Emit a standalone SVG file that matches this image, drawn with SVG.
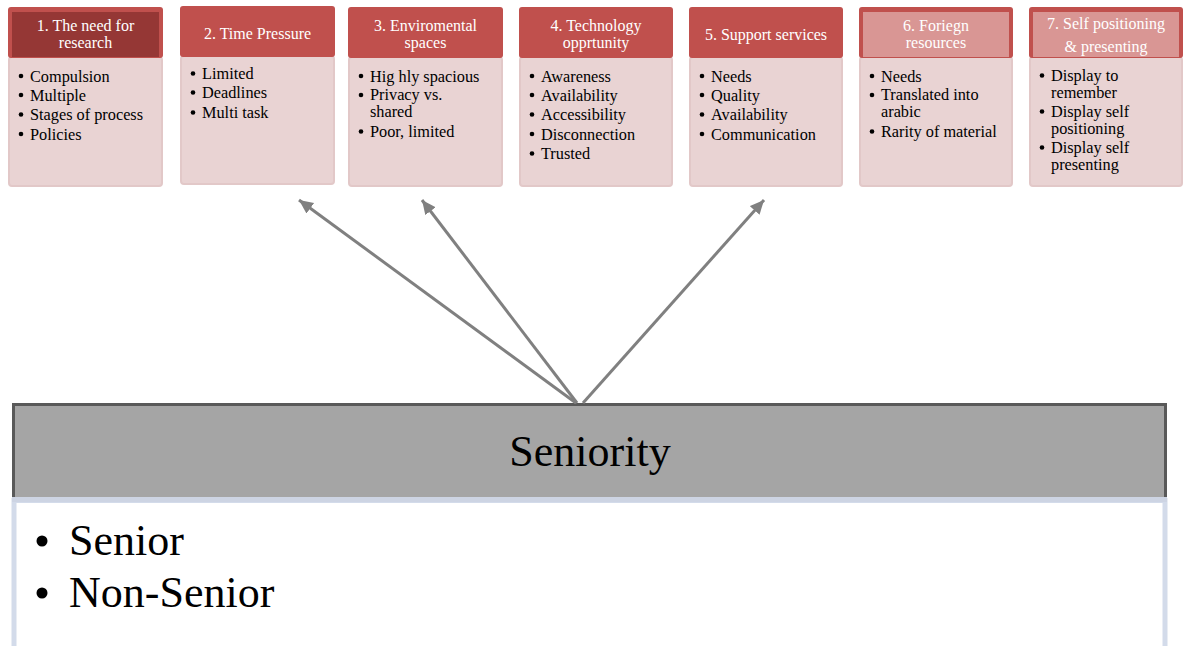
<svg xmlns="http://www.w3.org/2000/svg" width="1190" height="646" viewBox="0 0 1190 646">
<style>
.hd{fill:#c0504d}
.hd-dark{fill:#953735}
.hd-light{fill:#d99694}
.body{fill:#e9d3d3;stroke:#e2c8c8;stroke-width:2}
.ht{font-family:"Liberation Serif",serif;font-size:16px;fill:#ffffff;text-anchor:middle}
.bt{font-family:"Liberation Serif",serif;font-size:16.3px;fill:#000000}
.bul{fill:#000000}
.conn{stroke:#808080;stroke-width:3;fill:none;marker-end:url(#ah)}
.big{font-family:"Liberation Serif",serif;font-size:44px;fill:#000000}
</style>
<defs>
<marker id="ah" markerUnits="userSpaceOnUse" markerWidth="16" markerHeight="14" refX="14" refY="6.5" orient="auto">
<path d="M0,0 L14,6.5 L0,13 Z" fill="#808080"/>
</marker>
</defs>
<rect width="1190" height="646" fill="#ffffff"/>

<g id="node1">
<rect class="body" x="9" y="57" width="153" height="129" rx="3"/>
<rect class="hd" x="8" y="7" width="155" height="51" rx="3"/>
<rect class="hd-dark" x="12" y="12" width="147" height="45"/>
<text class="ht" x="85.5" y="30.5">1. The need for</text>
<text class="ht" x="85.5" y="48">research</text>
<circle class="bul" cx="21" cy="76" r="2.3"/><text class="bt" x="30" y="81.5">Compulsion</text>
<circle class="bul" cx="21" cy="95" r="2.3"/><text class="bt" x="30" y="100.5">Multiple</text>
<circle class="bul" cx="21" cy="114.5" r="2.3"/><text class="bt" x="30" y="120">Stages of process</text>
<circle class="bul" cx="21" cy="134" r="2.3"/><text class="bt" x="30" y="139.5">Policies</text>
</g>

<g id="node2">
<rect class="body" x="181" y="56" width="153" height="128" rx="3"/>
<rect class="hd" x="180" y="6" width="155" height="51" rx="3"/>
<text class="ht" x="257.5" y="39">2. Time Pressure</text>
<circle class="bul" cx="193" cy="73.5" r="2.3"/><text class="bt" x="202" y="79">Limited</text>
<circle class="bul" cx="193" cy="92.5" r="2.3"/><text class="bt" x="202" y="98">Deadlines</text>
<circle class="bul" cx="193" cy="112.5" r="2.3"/><text class="bt" x="202" y="118">Multi task</text>
</g>

<g id="node3">
<rect class="body" x="349" y="57" width="153" height="129" rx="3"/>
<rect class="hd" x="348" y="7" width="155" height="51" rx="3"/>
<text class="ht" x="425.5" y="30.5">3. Enviromental</text>
<text class="ht" x="425.5" y="48">spaces</text>
<circle class="bul" cx="361" cy="76" r="2.3"/><text class="bt" x="370" y="81.5">Hig hly spacious</text>
<circle class="bul" cx="361" cy="95" r="2.3"/><text class="bt" x="370" y="100">Privacy vs.</text>
<text class="bt" x="370" y="117">shared</text>
<circle class="bul" cx="361" cy="131.5" r="2.3"/><text class="bt" x="370" y="137">Poor, limited</text>
</g>

<g id="node4">
<rect class="body" x="520" y="57" width="152" height="129" rx="3"/>
<rect class="hd" x="519" y="7" width="154" height="51" rx="3"/>
<text class="ht" x="596" y="30.5">4. Technology</text>
<text class="ht" x="596" y="48">opprtunity</text>
<circle class="bul" cx="532" cy="76" r="2.3"/><text class="bt" x="541" y="81.5">Awareness</text>
<circle class="bul" cx="532" cy="95" r="2.3"/><text class="bt" x="541" y="100.5">Availability</text>
<circle class="bul" cx="532" cy="114.5" r="2.3"/><text class="bt" x="541" y="120">Accessibility</text>
<circle class="bul" cx="532" cy="134" r="2.3"/><text class="bt" x="541" y="139.5">Disconnection</text>
<circle class="bul" cx="532" cy="153.5" r="2.3"/><text class="bt" x="541" y="159">Trusted</text>
</g>

<g id="node5">
<rect class="body" x="690" y="57" width="152" height="129" rx="3"/>
<rect class="hd" x="689" y="7" width="154" height="51" rx="3"/>
<text class="ht" x="766" y="39.5">5. Support services</text>
<circle class="bul" cx="702" cy="76" r="2.3"/><text class="bt" x="711" y="81.5">Needs</text>
<circle class="bul" cx="702" cy="95" r="2.3"/><text class="bt" x="711" y="100.5">Quality</text>
<circle class="bul" cx="702" cy="114.5" r="2.3"/><text class="bt" x="711" y="120">Availability</text>
<circle class="bul" cx="702" cy="134" r="2.3"/><text class="bt" x="711" y="139.5">Communication</text>
</g>

<g id="node6">
<rect class="body" x="860" y="57" width="152" height="129" rx="3"/>
<rect class="hd" x="859" y="7" width="154" height="51" rx="3"/>
<rect class="hd-light" x="863" y="12" width="146" height="45"/>
<text class="ht" x="936" y="30.5">6. Foriegn</text>
<text class="ht" x="936" y="48">resources</text>
<circle class="bul" cx="872" cy="76" r="2.3"/><text class="bt" x="881" y="81.5">Needs</text>
<circle class="bul" cx="872" cy="95" r="2.3"/><text class="bt" x="881" y="100">Translated into</text>
<text class="bt" x="881" y="117">arabic</text>
<circle class="bul" cx="872" cy="131.5" r="2.3"/><text class="bt" x="881" y="137">Rarity of material</text>
</g>

<g id="node7">
<rect class="body" x="1030" y="57" width="152" height="129" rx="3"/>
<rect class="hd" x="1029" y="7" width="154" height="51" rx="3"/>
<rect class="hd-light" x="1033" y="12" width="146" height="45"/>
<text class="ht" x="1106" y="29">7. Self positioning</text>
<text class="ht" x="1106" y="52">&amp; presenting</text>
<circle class="bul" cx="1042" cy="75.5" r="2.3"/><text class="bt" x="1051" y="81">Display to</text>
<text class="bt" x="1051" y="98">remember</text>
<circle class="bul" cx="1042" cy="111.5" r="2.3"/><text class="bt" x="1051" y="117">Display self</text>
<text class="bt" x="1051" y="134">positioning</text>
<circle class="bul" cx="1042" cy="147.5" r="2.3"/><text class="bt" x="1051" y="153">Display self</text>
<text class="bt" x="1051" y="170">presenting</text>
</g>

<g id="seniority">
<rect x="14" y="500.5" width="1151" height="160" fill="#ffffff" stroke="#d3dbea" stroke-width="5"/>
<rect x="13.5" y="404.5" width="1152" height="94" fill="#a5a5a5" stroke="#595959" stroke-width="3"/>
<rect x="12" y="497" width="1155" height="5" fill="#cdd4e3"/>
<text class="big" x="590" y="466" text-anchor="middle">Seniority</text>
<circle class="bul" cx="42" cy="541" r="5.5"/>
<text class="big" x="69" y="555">Senior</text>
<circle class="bul" cx="42" cy="593" r="5.5"/>
<text class="big" x="69" y="607">Non-Senior</text>
</g>

<g id="connectors">
<line class="conn" x1="576" y1="403" x2="299" y2="200"/>
<line class="conn" x1="577" y1="403" x2="422" y2="200"/>
<line class="conn" x1="583" y1="403" x2="764" y2="200"/>
</g>
</svg>
